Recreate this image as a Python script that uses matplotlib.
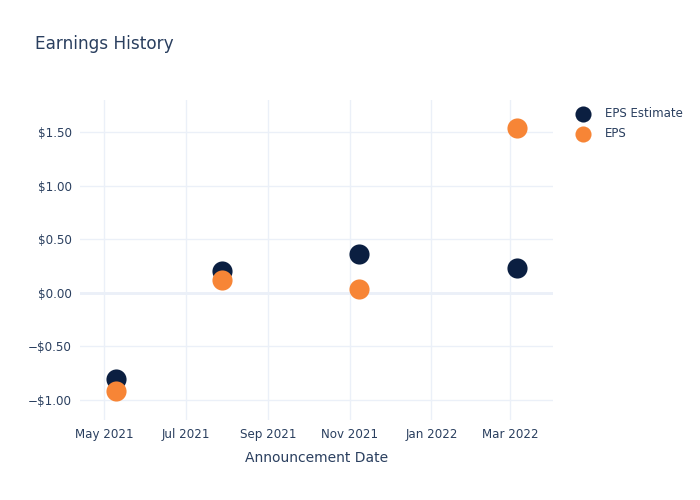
import matplotlib
matplotlib.use('Agg')
import matplotlib.pyplot as plt
import matplotlib.dates as mdates
from matplotlib.ticker import FuncFormatter, FixedLocator
import pandas as pd

# data
dates = pd.to_datetime(['2021-05-10', '2021-07-28', '2021-11-08', '2022-03-06'])
eps_estimate = [-0.81, 0.20, 0.36, 0.23]
eps_actual = [-0.92, 0.12, 0.03, 1.54]
y_ticks = [-1.0, -0.5, 0.0, 0.5, 1.0, 1.5]
x_ticks = pd.to_datetime(['2021-05-01', '2021-07-01', '2021-09-01',
                          '2021-11-01', '2022-01-01', '2022-03-01'])

text_col = '#2a3f5f'
grid_col = '#ebf0f8'

fig = plt.figure(figsize=(7, 5), dpi=100)
ax = fig.add_axes([0.1143, 0.16, 0.6757, 0.64])

ax.scatter(dates, eps_estimate, s=210, color='#0b1f41', label='EPS Estimate', zorder=3, linewidths=0)
ax.scatter(dates, eps_actual, s=210, color='#f78536', label='EPS', zorder=4, linewidths=0)

ax.set_xlim(pd.Timestamp('2021-04-13'), pd.Timestamp('2022-04-02'))
ax.set_ylim(-1.19, 1.80)

ax.xaxis.set_major_locator(FixedLocator(mdates.date2num(x_ticks)))
ax.xaxis.set_major_formatter(mdates.DateFormatter('%b %Y'))
ax.yaxis.set_major_locator(FixedLocator(y_ticks))


def money(v, pos):
    if v < 0:
        return '\u2212$%.2f' % abs(v)
    return '$%.2f' % v


ax.yaxis.set_major_formatter(FuncFormatter(money))

ax.grid(True, color=grid_col, linewidth=1, zorder=0)
ax.axhline(0, color=grid_col, linewidth=2, zorder=1)
for s in ax.spines.values():
    s.set_visible(False)
ax.tick_params(axis='both', length=0, labelsize=8.6, colors=text_col, pad=6)

ax.set_xlabel('Announcement Date', fontsize=10, color=text_col, labelpad=7)
fig.text(0.05, 0.912, 'Earnings History', fontsize=12.2, color=text_col, va='center')

leg = ax.legend(loc='upper left', bbox_to_anchor=(1.028, 0.993), frameon=False,
                fontsize=8.5, labelcolor=text_col, handletextpad=0.9, borderaxespad=0,
                labelspacing=0.6, markerscale=0.8)

fig.savefig('out.png', dpi=100)
